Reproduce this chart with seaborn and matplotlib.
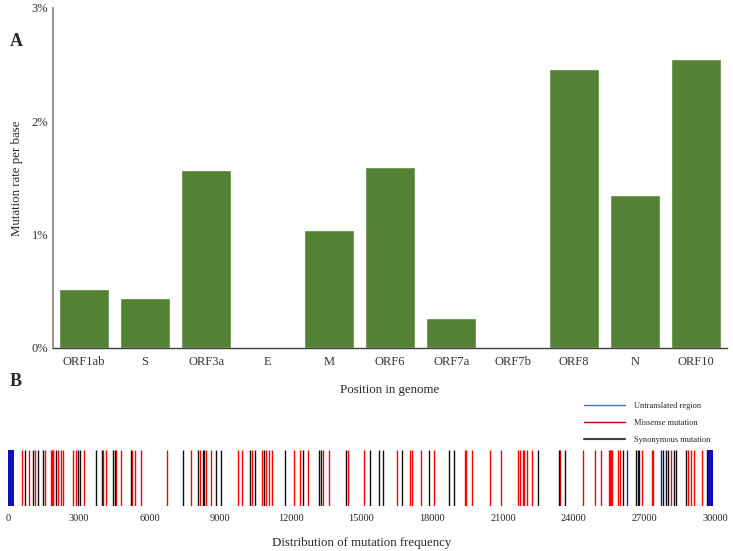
import numpy as np
import pandas as pd
import matplotlib
matplotlib.use("Agg")
import matplotlib.pyplot as plt
from matplotlib.lines import Line2D
import seaborn as sns

# Panel A: mutation rate per base for each gene (%)
genes = ["ORF1ab", "S", "ORF3a", "E", "M", "ORF6", "ORF7a", "ORF7b", "ORF8", "N", "ORF10"]
rates = [0.52, 0.44, 1.575, 0.0, 1.04, 1.60, 0.265, 0.0, 2.46, 1.35, 2.55]
ytick_vals = [0, 1, 2, 3]

# Panel B: mutation sites along the genome
missense_sites = [607, 878, 1158, 1560, 1812, 1850, 1890, 1922, 2134, 2249, 2346, 2771,
                  2900, 3237, 4044, 4158, 4583, 4782, 5274, 5389, 5630, 6734, 7765,
                  8147, 8401, 8613, 9772, 9916, 10353, 10777, 10947, 11061, 11188,
                  12148, 12390, 12716, 13353, 13633, 14413, 15090, 16492, 17057,
                  17155, 17537, 18075, 19378, 19433, 19688, 20451, 20917, 21626,
                  21724, 21838, 21894, 22008, 22233, 23436, 24410, 24919, 25174,
                  25520, 25560, 25600, 25650, 25894, 25967, 26888, 27312, 27365,
                  28131, 28852, 28966, 29120, 29433]
synonymous_sites = [721, 1073, 1286, 1472, 2037, 2960, 3055, 3721, 3976, 4450, 4520,
                    5206, 7413, 8049, 8261, 8329, 8826, 9025, 10268, 10467, 10862,
                    11740, 12504, 13209, 13293, 14341, 15360, 15729, 15924, 16730,
                    17876, 18724, 18911, 22500, 23366, 23648, 26110, 26633, 26718,
                    26786, 27778, 27918, 28016, 28258, 28343, 28767, 29645]
utr_sites = [26254, 27707]
utr_regions = [(0, 265), (29675, 29903)]
genome_ticks = [0, 3000, 6000, 9000, 12000, 15000, 18000, 21000, 24000, 27000, 30000]

sns.set_style("white")
plt.rcParams["font.family"] = ["Liberation Serif", "DejaVu Serif"]

fig = plt.figure(figsize=(7.33, 5.51), dpi=100)

# ---- Panel A ----
axA = fig.add_axes([53 / 733, 203 / 551, (727 - 53) / 733, 340 / 551])
rate_df = pd.DataFrame({"gene": genes, "rate": rates})
sns.barplot(data=rate_df, x="gene", y="rate", color="#548235", saturation=1,
            width=0.82, ax=axA)
axA.set_ylim(0, 3)
axA.set_yticks(ytick_vals)
axA.set_yticklabels([f"{v}%" for v in ytick_vals])
axA.tick_params(axis="both", length=0, labelsize=9, colors="#333333")
axA.tick_params(axis="x", pad=6)
axA.set_ylabel("Mutation rate per base", fontsize=9.3, labelpad=6)
axA.set_xlabel("Position in genome", fontsize=9.3, labelpad=11)
for s in ["top", "right"]:
    axA.spines[s].set_visible(False)
axA.spines["left"].set_color("#8c8c8c")
axA.spines["left"].set_linewidth(1.3)
axA.spines["bottom"].set_color("#404040")
axA.spines["bottom"].set_linewidth(1.0)

fig.text(10 / 733, 1 - 41 / 551, "A", fontsize=13, fontweight="bold", va="center")
fig.text(10 / 733, 1 - 381 / 551, "B", fontsize=13, fontweight="bold", va="center")

# ---- Panel B ----
axB = fig.add_axes([8 / 733, 45 / 551, 707 / 733, 56 / 551])
site_df = pd.DataFrame({
    "pos": missense_sites + synonymous_sites + utr_sites,
    "type": (["Missense mutation"] * len(missense_sites)
             + ["Synonymous mutation"] * len(synonymous_sites)
             + ["Untranslated region"] * len(utr_sites)),
})
palette = {"Missense mutation": "#ff0000", "Synonymous mutation": "#111111",
           "Untranslated region": "#1a1acc"}
sns.rugplot(data=site_df, x="pos", hue="type", palette=palette, height=1,
            lw=1.2, legend=False, ax=axB)
for start, end in utr_regions:
    axB.axvspan(start, end, color="#1010c0", lw=0)
axB.set_xlim(0, 30000)
axB.set_ylim(0, 1)
axB.set_yticks([])
axB.set_xticks(genome_ticks)
axB.set_xticklabels([str(t) for t in genome_ticks])
axB.tick_params(axis="x", length=0, labelsize=7.5, pad=6)
axB.set_xlabel("Distribution of mutation frequency", fontsize=9.3, labelpad=10)
for s in axB.spines.values():
    s.set_visible(False)

handles = [Line2D([], [], color="#4472c4", lw=1),
           Line2D([], [], color="#c00000", lw=1),
           Line2D([], [], color="#404040", lw=1.5)]
labels = ["Untranslated region", "Missense mutation", "Synonymous mutation"]
fig.legend(handles, labels, loc="upper left", bbox_to_anchor=(576 / 733, 1 - 394 / 551),
           frameon=False, fontsize=6, handlelength=5.0, labelspacing=1.1,
           handletextpad=1.1)

fig.savefig("out.png", dpi=100)
